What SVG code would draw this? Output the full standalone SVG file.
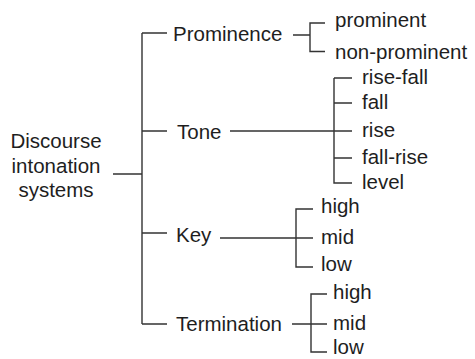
<svg xmlns="http://www.w3.org/2000/svg" width="475" height="359" viewBox="0 0 475 359">
<style>
text{font-family:"Liberation Sans",Arial,sans-serif;font-size:20.5px;fill:#1e1e1e}
.l{stroke:#333;stroke-width:1.4;fill:none}
</style>
<rect width="475" height="359" fill="#fff"/>
<g id="connectors" class="l">
<path d="M113,174H142M142,33V324M142,33H167M142,131H167M142,233H167M142,324H167"/>
<path d="M293,35H310M325,23H310V51.5H325"/>
<path d="M230,131H352M334,78V183H352M334,78H352M334,103H352M334,158H352"/>
<path d="M220,238H313M313,209H296V267H313"/>
<path d="M292,324H327M327,294H311V352H327"/>
</g>
<g id="root"><text x="56" y="148" text-anchor="middle">Discourse</text><text x="56" y="172.5" text-anchor="middle">intonation</text><text x="56" y="197" text-anchor="middle">systems</text></g>
<g id="prominence"><text x="173" y="41">Prominence</text></g>
<g id="prominent"><text x="335" y="27">prominent</text></g>
<g id="non-prominent"><text x="335" y="59">non-prominent</text></g>
<g id="tone"><text x="177" y="138.5">Tone</text></g>
<g id="rise-fall"><text x="362" y="84">rise-fall</text></g>
<g id="fall"><text x="362" y="108.5">fall</text></g>
<g id="rise"><text x="362" y="136.5">rise</text></g>
<g id="fall-rise"><text x="362" y="163.5">fall-rise</text></g>
<g id="level"><text x="362" y="189">level</text></g>
<g id="key"><text x="176" y="241.5">Key</text></g>
<g id="key-high"><text x="321" y="213">high</text></g>
<g id="key-mid"><text x="321" y="243.5">mid</text></g>
<g id="key-low"><text x="321" y="271">low</text></g>
<g id="termination"><text x="176" y="331">Termination</text></g>
<g id="term-high"><text x="333" y="299">high</text></g>
<g id="term-mid"><text x="333" y="330">mid</text></g>
<g id="term-low"><text x="333" y="354">low</text></g>
</svg>
